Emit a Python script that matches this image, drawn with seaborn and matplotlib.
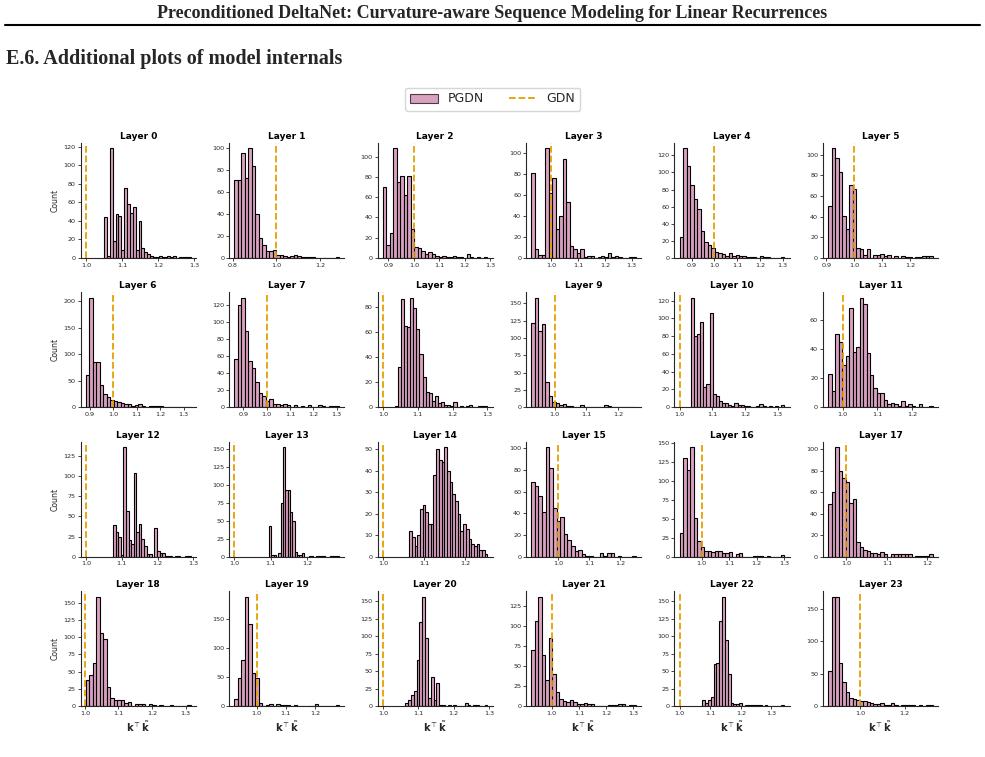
import numpy as np
import pandas as pd
import matplotlib
matplotlib.use("Agg")
import matplotlib.pyplot as plt
from matplotlib.patches import Patch
from matplotlib.lines import Line2D
from matplotlib.ticker import MaxNLocator, FixedLocator
import seaborn as sns

# histogram range (first / last bin edge) and counts per layer
bin_lo = [1.05, 0.808, 0.878, 0.925, 0.847, 0.907, 0.884, 0.861, 1.034, 0.926, 1.034, 0.959,
          1.0757, 1.095, 1.064, 0.913, 0.920, 0.955, 1.003, 0.924, 1.063, 0.925, 1.074, 0.854]
bin_hi = [1.29, 1.286, 1.29, 1.316, 1.308, 1.28, 1.33, 1.31, 1.30, 1.257, 1.32, 1.258,
          1.292, 1.288, 1.254, 1.250, 1.30, 1.213, 1.315, 1.282, 1.295, 1.309, 1.342, 1.328]
counts = [
    [44, 2, 118, 18, 47, 45, 8, 75, 58, 48, 55, 8, 40, 11, 6, 4, 2, 1, 1, 2, 1, 1, 2, 1, 2, 0, 1, 1, 1, 1],
    [71, 71, 96, 73, 100, 84, 40, 18, 12, 6, 6, 7, 3, 3, 2, 1, 2, 3, 2, 1, 1, 1, 1, 0, 0, 0, 0, 0, 0, 1],
    [70, 13, 25, 108, 75, 81, 62, 81, 29, 11, 10, 7, 4, 6, 4, 2, 1, 2, 1, 1, 2, 1, 1, 0, 4, 1, 0, 1, 0, 1],
    [81, 8, 3, 3, 104, 62, 76, 27, 40, 94, 53, 11, 8, 5, 8, 1, 2, 2, 0, 1, 2, 1, 5, 1, 2, 1, 0, 0, 1, 1],
    [24, 128, 107, 85, 69, 57, 32, 19, 15, 11, 7, 6, 4, 2, 6, 2, 3, 2, 2, 1, 1, 1, 0, 2, 1, 1, 0, 0, 0, 1],
    [50, 106, 97, 83, 41, 28, 71, 67, 10, 9, 3, 9, 0, 3, 3, 4, 2, 3, 0, 2, 0, 2, 1, 1, 0, 1, 1, 2, 2, 2],
    [60, 206, 85, 85, 42, 25, 20, 14, 11, 10, 8, 6, 7, 2, 4, 6, 2, 0, 3, 3, 2, 3, 1, 0, 0, 0, 1, 0, 1, 1],
    [56, 120, 128, 89, 54, 46, 29, 17, 13, 7, 10, 4, 4, 3, 4, 3, 0, 3, 0, 1, 0, 3, 0, 0, 3, 1, 0, 2, 2, 1],
    [1, 32, 86, 65, 64, 87, 79, 62, 42, 24, 12, 11, 5, 9, 3, 4, 2, 2, 1, 4, 0, 1, 0, 1, 2, 0, 0, 1, 1, 1],
    [122, 158, 110, 120, 36, 16, 8, 6, 3, 5, 2, 2, 0, 0, 3, 1, 1, 1, 0, 1, 1, 3, 2, 1, 1, 0, 1, 0, 0, 1],
    [123, 80, 82, 96, 23, 26, 106, 15, 13, 7, 5, 5, 2, 1, 5, 3, 3, 1, 1, 0, 0, 1, 4, 1, 0, 1, 0, 1, 0, 2],
    [23, 11, 50, 45, 29, 35, 68, 38, 41, 75, 71, 37, 22, 13, 10, 10, 5, 2, 3, 2, 1, 4, 1, 2, 1, 0, 2, 0, 0, 1],
    [39, 30, 24, 2, 136, 57, 21, 16, 104, 31, 41, 22, 13, 3, 3, 0, 36, 7, 5, 5, 1, 1, 1, 0, 1, 1, 0, 0, 1, 1],
    [43, 2, 2, 0, 5, 75, 152, 92, 92, 62, 50, 6, 2, 2, 5, 0, 0, 1, 1, 0, 1, 1, 1, 1, 0, 0, 1, 1, 1, 1],
    [12, 9, 5, 10, 22, 24, 21, 15, 15, 38, 50, 45, 44, 51, 40, 35, 29, 26, 20, 12, 15, 13, 8, 6, 5, 6, 3, 3, 1],
    [69, 65, 56, 41, 101, 82, 45, 33, 37, 21, 15, 10, 5, 6, 2, 1, 1, 0, 0, 3, 1, 3, 3, 0, 1, 0, 0, 0, 1],
    [31, 130, 114, 144, 51, 20, 13, 8, 7, 6, 7, 8, 5, 5, 6, 0, 4, 5, 0, 0, 0, 1, 1, 1, 0, 1, 0, 0, 0, 2],
    [49, 60, 102, 80, 73, 70, 50, 54, 14, 9, 6, 5, 3, 3, 2, 4, 2, 0, 2, 2, 2, 2, 2, 2, 0, 1, 1, 1, 1, 2],
    [38, 45, 63, 159, 106, 98, 28, 12, 9, 9, 8, 4, 6, 0, 3, 3, 3, 0, 3, 1, 0, 1, 0, 0, 2, 0, 0, 0, 0, 1],
    [12, 49, 80, 189, 141, 57, 49, 6, 0, 2, 4, 0, 3, 2, 2, 1, 0, 1, 0, 0, 0, 0, 0, 3, 0, 0, 0, 0, 0, 1],
    [5, 9, 16, 22, 66, 121, 157, 98, 12, 42, 8, 33, 2, 2, 0, 1, 0, 1, 0, 0, 0, 4, 2, 0, 1, 1, 0, 0, 1],
    [70, 106, 137, 64, 33, 85, 40, 17, 9, 6, 5, 7, 5, 2, 3, 4, 3, 2, 0, 0, 0, 0, 1, 1, 1, 3, 3, 0, 1, 1],
    [8, 5, 9, 13, 60, 61, 122, 157, 94, 46, 5, 3, 3, 5, 0, 1, 1, 2, 1, 2, 2, 0, 1, 0, 0, 0, 0, 0, 1],
    [54, 168, 169, 66, 37, 22, 13, 11, 9, 7, 7, 6, 4, 3, 3, 5, 2, 2, 4, 2, 0, 2, 1, 1, 1, 0, 1, 0, 1, 1],
]
xticks = [
    [1.0, 1.1, 1.2, 1.3], [0.8, 1.0, 1.2], [0.9, 1.0, 1.1, 1.2, 1.3], [1.0, 1.1, 1.2, 1.3],
    [0.9, 1.0, 1.1, 1.2, 1.3], [0.9, 1.0, 1.1, 1.2],
    [0.9, 1.0, 1.1, 1.2, 1.3], [0.9, 1.0, 1.1, 1.2, 1.3], [1.0, 1.1, 1.2, 1.3], [1.0, 1.1, 1.2],
    [1.0, 1.1, 1.2, 1.3], [1.0, 1.1, 1.2],
    [1.0, 1.1, 1.2, 1.3], [1.0, 1.1, 1.2], [1.0, 1.1, 1.2], [1.0, 1.1, 1.2],
    [1.0, 1.1, 1.2, 1.3], [1.0, 1.1, 1.2],
    [1.0, 1.1, 1.2, 1.3], [1.0, 1.1, 1.2], [1.0, 1.1, 1.2, 1.3], [1.0, 1.1, 1.2, 1.3],
    [1.0, 1.1, 1.2, 1.3], [1.0, 1.2],
]
gdn_value = 1.0

pink = "#CC79A7"
orange = "#E69F00"

sns.set_style("ticks")
fig, axes = plt.subplots(4, 6, figsize=(9.85, 7.57), dpi=100)
fig.subplots_adjust(left=80.7 / 985, right=938 / 985, top=1 - 143 / 757, bottom=1 - 706 / 757,
                    wspace=0.29, hspace=0.30)

for i, ax in enumerate(axes.flat):
    n = len(counts[i])
    width = (bin_hi[i] - bin_lo[i]) / n
    df = pd.DataFrame({"value": bin_lo[i] + width * (np.arange(n) + 0.5), "count": counts[i]})
    sns.histplot(data=df, x="value", weights="count", bins=n, binrange=(bin_lo[i], bin_hi[i]),
                 ax=ax, color=pink, alpha=0.7, edgecolor="black", linewidth=0.8)
    ax.axvline(gdn_value, color=orange, ls="--", lw=1.3)
    ax.set_title(f"Layer {i}", fontsize=6.5, fontweight="bold", pad=3, color="black")
    ax.xaxis.set_major_locator(FixedLocator(xticks[i]))
    ax.yaxis.set_major_locator(MaxNLocator(nbins=7, steps=[1, 2, 2.5, 5, 10]))
    ax.tick_params(labelsize=4.6, length=2, width=0.6, pad=1.5)
    ax.set_ylabel("Count" if i % 6 == 0 else "", fontsize=5.6, labelpad=3)
    ax.set_xlabel(r"$\mathbf{k}^\top\tilde{\mathbf{k}}$" if i >= 18 else "", fontsize=7, labelpad=2)
    for s in ["left", "bottom"]:
        ax.spines[s].set_linewidth(0.8)
    sns.despine(ax=ax)

handles = [Patch(facecolor=pink, alpha=0.7, edgecolor="black", linewidth=0.8),
           Line2D([0], [0], color=orange, ls="--", lw=1.3)]
fig.legend(handles, ["PGDN", "GDN"], loc="center", bbox_to_anchor=(0.5, 1 - 99 / 757), ncol=2,
           fontsize=9, frameon=True, handlelength=2.2, columnspacing=2.0)

# page header
fig.text(0.5, 1 - 13 / 757, "Preconditioned DeltaNet: Curvature-aware Sequence Modeling for Linear Recurrences",
         ha="center", va="center", fontsize=13, fontweight="bold", family="Liberation Serif")
fig.add_artist(Line2D([5 / 985, 980 / 985], [1 - 25 / 757, 1 - 25 / 757], color="black", lw=1.5))
fig.text(6 / 985, 1 - 59 / 757, "E.6. Additional plots of model internals",
         ha="left", va="center", fontsize=14.5, fontweight="bold", family="Liberation Serif")

fig.savefig("out.png", dpi=100)
